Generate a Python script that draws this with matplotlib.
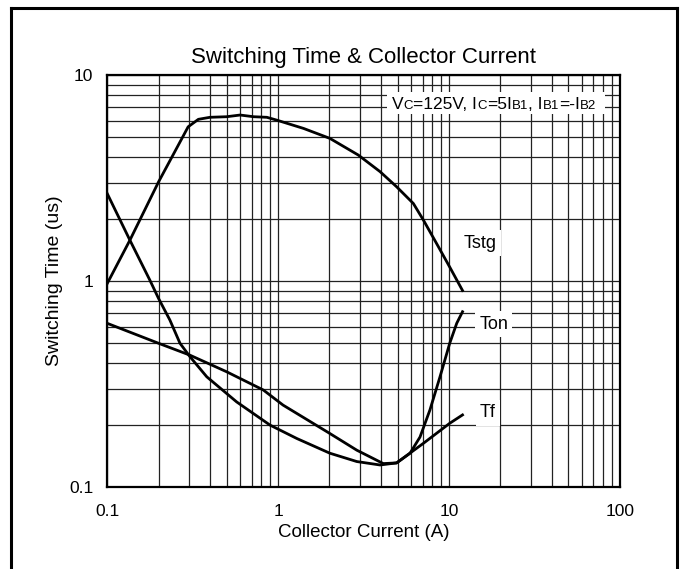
import matplotlib.pyplot as plt
from matplotlib.lines import Line2D
from matplotlib.patches import Rectangle
from matplotlib.ticker import FixedLocator, NullFormatter
from matplotlib.transforms import offset_copy

plt.rcParams["font.family"] = ["Liberation Sans", "DejaVu Sans"]

# values (collector current in A, time in us)
tstg_ic = [0.1, 0.136, 0.2, 0.261, 0.298, 0.342, 0.40, 0.50, 0.60, 0.72,
           0.86, 0.98, 1.41, 2.01, 2.95, 3.95, 4.94, 6.19, 7.08, 8.47, 10.1, 12.0]
tstg_t = [0.97, 1.58, 3.03, 4.57, 5.61, 6.10, 6.24, 6.28, 6.40, 6.28,
          6.24, 6.05, 5.51, 4.93, 4.09, 3.40, 2.87, 2.38, 1.98, 1.52, 1.17, 0.90]

ton_ic = [0.1, 0.136, 0.178, 0.2, 0.233, 0.267, 0.305, 0.383, 0.573, 0.897,
          1.29, 2.01, 2.89, 3.95, 4.94, 5.92, 6.77, 7.74, 8.86, 10.1, 11.1, 12.0]
ton_t = [2.67, 1.58, 1.01, 0.824, 0.647, 0.499, 0.43, 0.343, 0.259, 0.20,
         0.172, 0.146, 0.133, 0.128, 0.131, 0.146, 0.175, 0.237, 0.343, 0.499, 0.624, 0.71]

tf_ic = [0.1, 0.2, 0.305, 0.5, 0.82, 1.07, 2.01, 2.89, 4.13, 4.94, 7.08, 10.1, 12.0]
tf_t = [0.624, 0.499, 0.437, 0.363, 0.296, 0.25, 0.182, 0.151, 0.130, 0.131, 0.163, 0.204, 0.224]

x_ticks = [0.1, 1, 10, 100]
x_ticklabels = ["0.1", "1", "10", "100"]
y_ticks = [0.1, 1, 10]
y_ticklabels = ["0.1", "1", "10"]

# curve labels: (text, x, y)
curve_labels = [("Tstg", 15.2, 1.53), ("Ton", 18.3, 0.618), ("Tf", 16.9, 0.229)]

# test condition, split in normal / small (subscript) pieces
cond_pieces = [("V", 12.5), ("C", 9.5), ("=125V, I", 12.5), ("C", 9.5), ("=5I", 12.5),
               ("B1", 9.5), (", I", 12.5), ("B1", 9.5), ("=-I", 12.5), ("B2", 9.5)]

fig = plt.figure(figsize=(6.82, 5.69), dpi=100)
ax = fig.add_axes([0.157, 0.144, 0.752, 0.724])

ax.plot(tstg_ic, tstg_t, color="black", lw=2)
ax.plot(ton_ic, ton_t, color="black", lw=2)
ax.plot(tf_ic, tf_t, color="black", lw=2)

ax.set_xscale("log")
ax.set_yscale("log")
ax.set_xlim(0.1, 100)
ax.set_ylim(0.1, 10)

ax.xaxis.set_major_locator(FixedLocator(x_ticks))
ax.yaxis.set_major_locator(FixedLocator(y_ticks))
ax.set_xticklabels(x_ticklabels)
ax.set_yticklabels(y_ticklabels)
ax.xaxis.set_minor_formatter(NullFormatter())
ax.yaxis.set_minor_formatter(NullFormatter())
ax.tick_params(which="both", length=0, labelsize=12.5)
ax.tick_params(axis="x", pad=12)
ax.tick_params(axis="y", pad=10)
ax.grid(True, which="both", color="#222222", lw=0.9)
ax.set_axisbelow(True)
for s in ax.spines.values():
    s.set_linewidth(1.6)

for name, x, y in curve_labels:
    ax.text(x, y, name, fontsize=13, ha="center", va="center",
            bbox=dict(facecolor="white", edgecolor="none", pad=3))

# white box behind the condition text, cutting the grid
ax.add_patch(Rectangle((0.546, 0.905), 0.425, 0.054, transform=ax.transAxes,
                       facecolor="white", edgecolor="none", zorder=1.5))
renderer = fig.canvas.get_renderer()
trans = ax.transAxes
for s, size in cond_pieces:
    t = ax.text(0.556, 0.918, s, fontsize=size, va="baseline", ha="left",
                transform=trans, zorder=3)
    t.draw(renderer)
    ext = t.get_window_extent(renderer)
    trans = offset_copy(t.get_transform(), fig=fig, x=ext.width, units="dots")

ax.set_title("Switching Time & Collector Current", fontsize=16, pad=9)
ax.set_xlabel("Collector Current (A)", fontsize=13.5, labelpad=4)
ax.set_ylabel("Switching Time (us)", fontsize=14, labelpad=4)

# outer frame of the datasheet figure
fx0, fx1, fy1 = 10.5 / 682, 676.5 / 682, 1 - 7.5 / 569
for xs, ys in [([fx0, fx0], [0, fy1]), ([fx1, fx1], [0, fy1]), ([fx0, fx1], [fy1, fy1])]:
    fig.add_artist(Line2D(xs, ys, color="black", lw=2.2, transform=fig.transFigure))

fig.savefig("out.png", dpi=100)
